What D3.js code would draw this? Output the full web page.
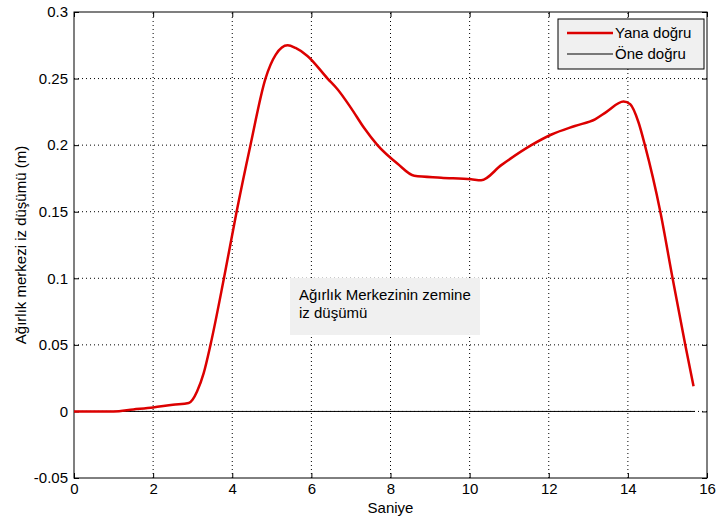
<!DOCTYPE html>
<html>
<head>
<meta charset="utf-8">
<script src="https://cdn.jsdelivr.net/npm/d3@7"></script>
<style>
body { margin: 0; background: #fff; }
svg { font-family: "Liberation Sans", Arial, sans-serif; }
</style>
</head>
<body>
<svg id="chart"></svg>
<script>
// values
const timeValues = [0, 1.0, 1.5, 2.0, 2.5, 2.9, 3.0, 3.11, 3.28, 3.45, 3.79, 4.11, 4.46, 4.84, 5.1, 5.4, 5.6, 5.9, 6.41, 6.66, 7.0, 7.33, 7.67, 8.18, 8.6, 9.28, 10.04, 10.29, 10.8, 11.56, 12.07, 12.66, 13.17, 13.46, 13.89, 14.06, 14.27, 14.43, 14.82, 15.13, 15.45, 15.66];
const yanaValues = [0, 0, 0.0015, 0.003, 0.005, 0.0063, 0.009, 0.015, 0.029, 0.05, 0.1, 0.15, 0.2, 0.25, 0.268, 0.275, 0.273, 0.267, 0.25, 0.242, 0.228, 0.213, 0.2, 0.186, 0.177, 0.1756, 0.1743, 0.1736, 0.185, 0.2, 0.208, 0.2144, 0.2194, 0.225, 0.2327, 0.2307, 0.217, 0.2, 0.15, 0.1, 0.05, 0.019];
const oneTimes = [0, 15.69];
const oneValues = [0, 0];
const xTicks = [0, 2, 4, 6, 8, 10, 12, 14, 16];
const yTicks = [-0.05, 0, 0.05, 0.1, 0.15, 0.2, 0.25, 0.3];
const seriesNames = ['Yana doğru', 'Öne doğru'];

const width = 716, height = 525;
const margin = {top: 12, right: 9, bottom: 47, left: 74};
const fontSize = 15;

const svg = d3.select('#chart')
    .attr('width', width)
    .attr('height', height);

const x = d3.scaleLinear()
    .domain([0, 16])
    .range([margin.left, width - margin.right]);

const y = d3.scaleLinear()
    .domain([-0.05, 0.3])
    .range([height - margin.bottom, margin.top]);

// dotted grid
const grid = svg.append('g');
grid.selectAll('.gx')
    .data(xTicks.slice(1, -1))
    .enter()
    .append('line')
    .attr('x1', d => x(d)).attr('x2', d => x(d))
    .attr('y1', y.range()[0]).attr('y2', y.range()[1])
    .attr('stroke', '#000')
    .attr('stroke-width', 1)
    .attr('stroke-dasharray', '1,3');
grid.selectAll('.gy')
    .data(yTicks.slice(1, -1))
    .enter()
    .append('line')
    .attr('x1', x.range()[0]).attr('x2', x.range()[1])
    .attr('y1', d => y(d)).attr('y2', d => y(d))
    .attr('stroke', '#000')
    .attr('stroke-width', 1)
    .attr('stroke-dasharray', '1,3');

// axes with ticks pointing inwards
svg.append('g')
    .attr('transform', `translate(0, ${y.range()[0]})`)
    .call(d3.axisBottom(x).tickValues(xTicks).tickSizeInner(-5).tickSizeOuter(0).tickPadding(5))
    .call(g => g.select('.domain').remove());
svg.append('g')
    .attr('transform', `translate(0, ${y.range()[1]})`)
    .call(d3.axisTop(x).tickValues(xTicks).tickSizeInner(-5).tickSizeOuter(0).tickFormat(''))
    .call(g => g.select('.domain').remove());
svg.append('g')
    .attr('transform', `translate(${x.range()[0]}, 0)`)
    .call(d3.axisLeft(y).tickValues(yTicks).tickSizeInner(-5).tickSizeOuter(0).tickPadding(6)
        .tickFormat(d => String(+d.toFixed(2))))
    .call(g => g.select('.domain').remove());
svg.append('g')
    .attr('transform', `translate(${x.range()[1]}, 0)`)
    .call(d3.axisRight(y).tickValues(yTicks).tickSizeInner(-5).tickSizeOuter(0).tickFormat(''))
    .call(g => g.select('.domain').remove());

svg.selectAll('.tick text')
    .attr('font-size', fontSize)
    .attr('fill', '#000');

// frame
svg.append('rect')
    .attr('x', x.range()[0])
    .attr('y', y.range()[1])
    .attr('width', x.range()[1] - x.range()[0])
    .attr('height', y.range()[0] - y.range()[1])
    .attr('fill', 'none')
    .attr('stroke', '#000')
    .attr('stroke-width', 1);

// lines
const line = d3.line()
    .x(d => x(d[0]))
    .y(d => y(d[1]));

svg.append('path')
    .datum(d3.zip(oneTimes, oneValues))
    .attr('fill', 'none')
    .attr('stroke', '#000')
    .attr('stroke-width', 1)
    .attr('d', line);

svg.append('path')
    .datum(d3.zip(timeValues, yanaValues))
    .attr('fill', 'none')
    .attr('stroke', '#dc0000')
    .attr('stroke-width', 2.5)
    .attr('stroke-linejoin', 'round')
    .attr('d', line.curve(d3.curveMonotoneX));

// annotation box
const note = svg.append('g').attr('transform', 'translate(290, 278)');
note.append('rect')
    .attr('width', 190)
    .attr('height', 57)
    .attr('fill', '#f0f0f0');
note.append('text')
    .attr('x', 9).attr('y', 22)
    .attr('font-size', fontSize)
    .text('Ağırlık Merkezinin zemine');
note.append('text')
    .attr('x', 9).attr('y', 40)
    .attr('font-size', fontSize)
    .text('iz düşümü');

// legend
const legend = svg.append('g').attr('transform', 'translate(558, 19)');
legend.append('rect')
    .attr('width', 146)
    .attr('height', 50)
    .attr('fill', '#f0f0f0')
    .attr('stroke', '#000')
    .attr('stroke-width', 1);
const item = legend.selectAll('.item')
    .data(seriesNames)
    .enter()
    .append('g')
    .attr('transform', (d, i) => `translate(0, ${14 + i * 21})`);
item.append('line')
    .attr('x1', 9).attr('x2', 55)
    .attr('stroke', (d, i) => i === 0 ? '#dc0000' : '#000')
    .attr('stroke-width', (d, i) => i === 0 ? 2.5 : 1);
item.append('text')
    .attr('x', 57)
    .attr('dy', '0.35em')
    .attr('font-size', fontSize)
    .text(d => d);

// axis titles
svg.append('text')
    .attr('x', (x.range()[0] + x.range()[1]) / 2)
    .attr('y', 513)
    .attr('text-anchor', 'middle')
    .attr('font-size', fontSize)
    .text('Saniye');
svg.append('text')
    .attr('transform', `translate(26, ${(y.range()[0] + y.range()[1]) / 2}) rotate(-90)`)
    .attr('text-anchor', 'middle')
    .attr('font-size', fontSize)
    .text('Ağırlık merkezi iz düşümü (m)');
</script>
</body>
</html>
